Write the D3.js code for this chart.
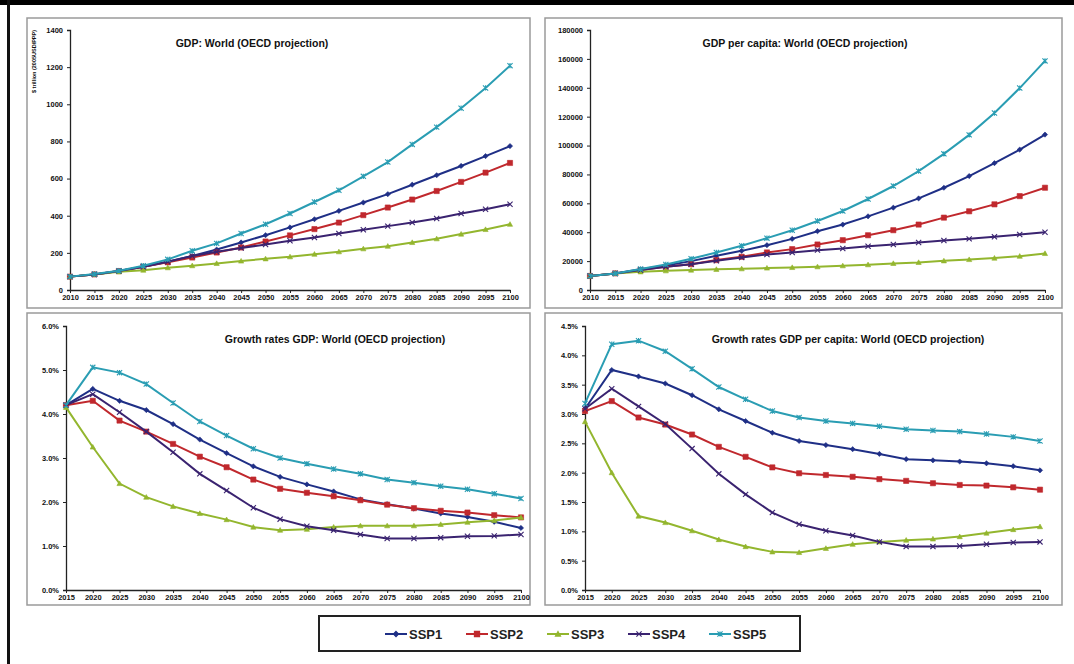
<!DOCTYPE html>
<meta charset="utf-8">
<script src="https://d3js.org/d3.v7.min.js"></script>
<style>
body { margin: 0; background: #fff; }
text { font-family: "Liberation Sans", Arial, sans-serif; fill: #111; }
.tick text { font-size: 7.5px; font-weight: bold; }
.domain, .tick line { stroke: #222; }
.title { font-size: 10.5px; font-weight: bold; }
.frame { fill: #fff; stroke: #9a9a9a; stroke-width: 1.5px; }
</style>
<body>
<script>
var years = [2010, 2015, 2020, 2025, 2030, 2035, 2040, 2045, 2050, 2055, 2060, 2065, 2070, 2075, 2080, 2085, 2090, 2095, 2100];
var growthYears = [2015, 2020, 2025, 2030, 2035, 2040, 2045, 2050, 2055, 2060, 2065, 2070, 2075, 2080, 2085, 2090, 2095, 2100];
var series = ['SSP1', 'SSP2', 'SSP3', 'SSP4', 'SSP5'];
var colors = ['#1f2f86', '#c0282d', '#93b62e', '#3a2370', '#2a9db3'];
var markers = ['diamond', 'square', 'triangle', 'x', 'star'];

// GDP, $ trillion
var gdpSSP1 = [72, 84, 102, 125, 152, 183, 218, 256, 295, 337, 381, 426, 471, 516, 567, 618, 668, 721, 775];
var gdpSSP2 = [72, 84, 102, 125, 149, 175, 202, 229, 261, 294, 328, 363, 403, 444, 487, 533, 582, 632, 684];
var gdpSSP3 = [72, 84, 98, 107, 120, 131, 143, 156, 168, 179, 193, 206, 222, 236, 256, 276, 301, 326, 354];
var gdpSSP4 = [72, 84, 102, 125, 152, 183, 206, 226, 245, 265, 283, 304, 324, 344, 363, 385, 412, 435, 462];
var gdpSSP5 = [72, 86, 104, 131, 165, 211, 251, 304, 354, 412, 474, 537, 612, 689, 784, 877, 979, 1088, 1208];

// GDP per capita
var pcSSP1 = [9700, 11500, 14300, 17000, 20000, 23700, 27100, 31000, 35400, 40700, 45300, 51000, 57000, 63400, 70800, 78900, 87800, 97200, 107600];
var pcSSP2 = [9700, 11500, 13800, 16100, 17900, 20700, 23000, 26000, 28300, 31500, 34500, 37900, 41400, 45300, 50100, 54500, 59300, 65000, 70800];
var pcSSP3 = [9700, 11500, 12600, 13300, 13800, 14300, 14700, 15200, 15600, 16100, 16800, 17500, 18400, 19100, 20200, 21100, 22100, 23400, 25300];
var pcSSP4 = [9700, 11500, 13800, 16100, 17900, 20200, 22500, 24600, 26000, 27600, 28700, 30300, 31500, 32900, 34300, 35400, 36800, 38400, 40000];
var pcSSP5 = [9700, 11500, 14500, 17700, 21600, 26000, 30600, 35900, 41400, 47800, 54700, 63000, 72000, 82300, 94250, 107400, 122500, 139800, 158600];

// growth rates GDP, %
var grSSP1 = [4.2, 4.57, 4.30, 4.09, 3.77, 3.42, 3.11, 2.81, 2.57, 2.40, 2.24, 2.06, 1.95, 1.85, 1.74, 1.66, 1.55, 1.41];
var grSSP2 = [4.2, 4.30, 3.85, 3.60, 3.32, 3.03, 2.79, 2.51, 2.30, 2.21, 2.13, 2.04, 1.94, 1.86, 1.80, 1.76, 1.70, 1.65];
var grSSP3 = [4.15, 3.25, 2.42, 2.11, 1.90, 1.74, 1.60, 1.43, 1.36, 1.38, 1.43, 1.46, 1.46, 1.46, 1.49, 1.54, 1.58, 1.65];
var grSSP4 = [4.2, 4.45, 4.04, 3.60, 3.13, 2.64, 2.26, 1.87, 1.61, 1.45, 1.36, 1.26, 1.17, 1.17, 1.19, 1.22, 1.23, 1.26];
var grSSP5 = [4.2, 5.06, 4.94, 4.68, 4.25, 3.83, 3.51, 3.21, 3.00, 2.87, 2.75, 2.64, 2.51, 2.44, 2.36, 2.29, 2.19, 2.08];

// growth rates GDP per capita, %
var gpSSP1 = [3.09, 3.75, 3.64, 3.52, 3.32, 3.08, 2.88, 2.68, 2.54, 2.47, 2.40, 2.32, 2.23, 2.21, 2.19, 2.16, 2.11, 2.04];
var gpSSP2 = [3.05, 3.22, 2.94, 2.82, 2.65, 2.44, 2.27, 2.09, 1.99, 1.96, 1.93, 1.89, 1.86, 1.82, 1.79, 1.78, 1.75, 1.71];
var gpSSP3 = [2.87, 2.00, 1.26, 1.15, 1.01, 0.86, 0.74, 0.65, 0.64, 0.71, 0.78, 0.82, 0.85, 0.87, 0.91, 0.97, 1.03, 1.08];
var gpSSP4 = [3.09, 3.43, 3.13, 2.83, 2.41, 1.98, 1.63, 1.32, 1.12, 1.01, 0.93, 0.82, 0.74, 0.74, 0.75, 0.78, 0.81, 0.82];
var gpSSP5 = [3.18, 4.19, 4.25, 4.07, 3.77, 3.46, 3.25, 3.05, 2.94, 2.88, 2.84, 2.79, 2.74, 2.72, 2.70, 2.66, 2.61, 2.54];

var gdpTicks = [0, 200, 400, 600, 800, 1000, 1200, 1400];
var pcTicks = [0, 20000, 40000, 60000, 80000, 100000, 120000, 140000, 160000, 180000];
var grTicks = [0, 1, 2, 3, 4, 5, 6];
var gpTicks = [0, 0.5, 1, 1.5, 2, 2.5, 3, 3.5, 4, 4.5];

var svg = d3.select('body').append('svg')
    .attr('width', 1074)
    .attr('height', 664);

// outer black edges of the screenshot
svg.append('rect').attr('x', 0).attr('y', 0).attr('width', 1074).attr('height', 5).attr('fill', '#000');
svg.append('rect').attr('x', 7).attr('y', 0).attr('width', 3).attr('height', 664).attr('fill', '#111');

function markerPath(type, x, y) {
    var s = 2.6;
    if (type == 'diamond') return 'M' + x + ',' + (y - s) + 'L' + (x + s) + ',' + y + 'L' + x + ',' + (y + s) + 'L' + (x - s) + ',' + y + 'Z';
    if (type == 'square') return 'M' + (x - s) + ',' + (y - s) + 'h' + (2 * s) + 'v' + (2 * s) + 'h' + (-2 * s) + 'Z';
    if (type == 'triangle') return 'M' + x + ',' + (y - s) + 'L' + (x + s) + ',' + (y + s * 0.8) + 'L' + (x - s) + ',' + (y + s * 0.8) + 'Z';
    if (type == 'x') return 'M' + (x - s) + ',' + (y - s) + 'L' + (x + s) + ',' + (y + s) + 'M' + (x - s) + ',' + (y + s) + 'L' + (x + s) + ',' + (y - s);
    return 'M' + (x - s) + ',' + (y - s) + 'L' + (x + s) + ',' + (y + s) + 'M' + (x - s) + ',' + (y + s) + 'L' + (x + s) + ',' + (y - s) + 'M' + x + ',' + (y - s) + 'L' + x + ',' + (y + s);
}

function drawPanel(p) {
    var g = svg.append('g');
    g.append('rect').attr('class', 'frame')
        .attr('x', p.box[0]).attr('y', p.box[1]).attr('width', p.box[2]).attr('height', p.box[3]);

    var x = d3.scaleLinear().domain([p.xs[0], p.xs[p.xs.length - 1]]).range([p.left, p.right]);
    var y = d3.scaleLinear().domain([0, p.ticks[p.ticks.length - 1]]).range([p.bottom, p.top]);

    g.append('g')
        .attr('transform', 'translate(' + p.left + ',0)')
        .call(d3.axisLeft(y).tickValues(p.ticks).tickSize(3).tickFormat(p.fmt))
        .call(function(a) { a.selectAll('.tick text').attr('dx', -1); });

    g.append('g')
        .attr('transform', 'translate(0,' + p.bottom + ')')
        .call(d3.axisBottom(x).tickValues(p.xs).tickSize(3).tickSizeOuter(0).tickFormat(d3.format('d')))
        .call(function(a) { a.selectAll('.tick text').attr('dy', '0.55em'); });

    g.selectAll('.domain').attr('stroke-width', 1.3);

    var line = d3.line().x(function(d, i) { return x(p.xs[i]); }).y(function(d) { return y(d); });

    p.data.forEach(function(vals, k) {
        g.append('path')
            .attr('d', line(vals))
            .attr('fill', 'none')
            .attr('stroke', colors[k])
            .attr('stroke-width', 2);
        g.selectAll(null).data(vals).enter().append('path')
            .attr('d', function(d, i) { return markerPath(markers[k], x(p.xs[i]), y(d)); })
            .attr('fill', colors[k])
            .attr('stroke', colors[k])
            .attr('stroke-width', markers[k] == 'x' || markers[k] == 'star' ? 1.1 : 0.6);
    });

    g.append('text').attr('class', 'title')
        .attr('x', p.titleX).attr('y', p.titleY)
        .attr('text-anchor', 'middle')
        .text(p.title);
    return g;
}

var fmtPct = function(d) { return d3.format('.1f')(d) + '%'; };

var p1 = drawPanel({
    box: [27, 18, 503, 290], left: 70, right: 510, top: 30, bottom: 290,
    xs: years, ticks: gdpTicks, fmt: d3.format('d'),
    data: [gdpSSP1, gdpSSP2, gdpSSP3, gdpSSP4, gdpSSP5],
    title: 'GDP: World (OECD projection)', titleX: 252, titleY: 47
});
p1.append('text')
    .attr('transform', 'translate(36,30) rotate(-90)')
    .attr('text-anchor', 'end')
    .style('font-size', '5.5px').style('font-weight', 'bold')
    .text('$ trillion (2005USD/PPP)');

drawPanel({
    box: [545, 18, 517, 290], left: 590, right: 1045, top: 30, bottom: 290,
    xs: years, ticks: pcTicks, fmt: d3.format('d'),
    data: [pcSSP1, pcSSP2, pcSSP3, pcSSP4, pcSSP5],
    title: 'GDP per capita: World (OECD projection)', titleX: 805, titleY: 47
});

drawPanel({
    box: [27, 313, 503, 292], left: 66, right: 521, top: 326, bottom: 590,
    xs: growthYears, ticks: grTicks, fmt: fmtPct,
    data: [grSSP1, grSSP2, grSSP3, grSSP4, grSSP5],
    title: 'Growth rates GDP: World (OECD projection)', titleX: 335, titleY: 343
});

drawPanel({
    box: [545, 313, 517, 292], left: 585, right: 1040, top: 326, bottom: 590,
    xs: growthYears, ticks: gpTicks, fmt: fmtPct,
    data: [gpSSP1, gpSSP2, gpSSP3, gpSSP4, gpSSP5],
    title: 'Growth rates GDP per capita: World (OECD projection)', titleX: 848, titleY: 343
});

// legend
var legend = svg.append('g');
legend.append('rect')
    .attr('x', 319).attr('y', 616).attr('width', 481).attr('height', 35)
    .attr('fill', '#fff').attr('stroke', '#222').attr('stroke-width', 2);

var legendX = [385, 466, 547, 628, 709];
series.forEach(function(name, k) {
    var lx = legendX[k], ly = 634;
    legend.append('line')
        .attr('x1', lx).attr('x2', lx + 22).attr('y1', ly).attr('y2', ly)
        .attr('stroke', colors[k]).attr('stroke-width', 2);
    legend.append('path')
        .attr('d', markerPath(markers[k], lx + 11, ly))
        .attr('fill', colors[k]).attr('stroke', colors[k]).attr('stroke-width', 1.1);
    legend.append('text')
        .attr('x', lx + 24).attr('y', ly + 4.5)
        .style('font-size', '13px').style('font-weight', 'bold')
        .style('fill', '#222')
        .text(name);
});
</script>
</body>
</html>
